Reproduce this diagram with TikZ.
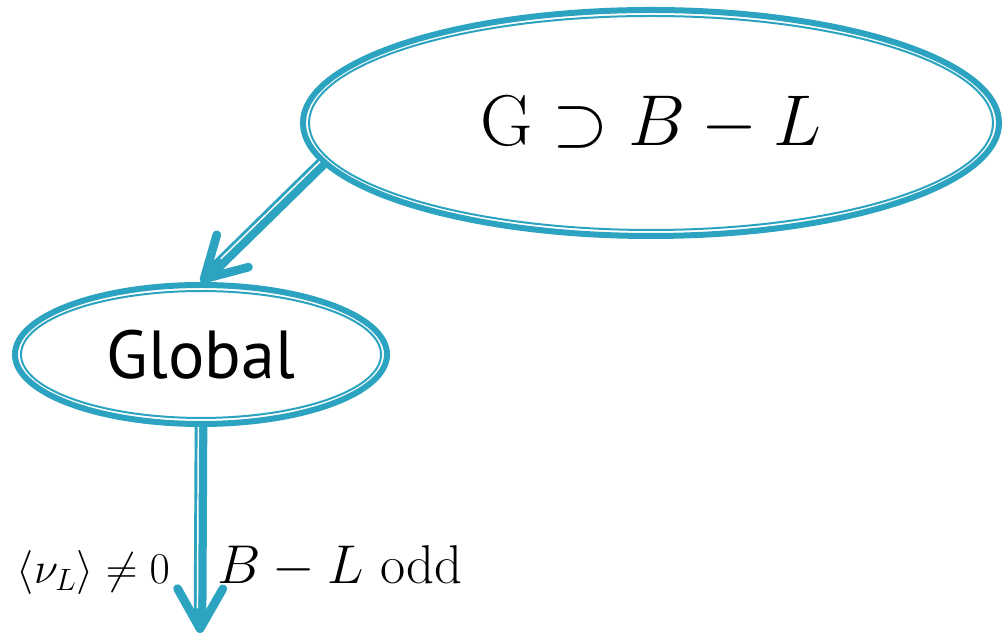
\RequirePackage{fix-cm}
\documentclass[tikz,border=0pt]{standalone}
\usepackage{fontspec}
\newfontfamily\labelsans{PT Sans}
\usetikzlibrary{shapes.geometric, arrows.meta, positioning, calc}
\definecolor{ringteal}{RGB}{44, 163, 192}

\begin{document}
\begin{tikzpicture}[
  x=0.75pt, y=0.75pt,
  ring/.style      = {ellipse, draw=ringteal, line width=4.5pt, inner sep=0pt,
                      text=black},
  innerring/.style = {draw=ringteal, line width=1.5pt},
  flow/.style      = {draw=ringteal, line width=9.5pt,
                      -{Straight Barb[round, length=30pt, width=34pt, line width=6.5pt]}},
  gapline/.style   = {draw=white, line width=1.1pt},
  cond/.style      = {inner sep=0pt}
]
\useasboundingbox (0,0) rectangle (1002,641);

%% Ellipses
\node[ring, minimum width=522pt, minimum height=169.5pt,
      font=\fontsize{54}{60}\selectfont] (root) at (651,518)
  {$\mathrm{G}\supset B-L$};
\draw[innerring] (root.center) ellipse [x radius=256.5pt, y radius=80.25pt];

\node[ring, minimum width=279pt, minimum height=104.25pt,
      font=\labelsans\fontsize{51}{58}\selectfont] (global) at (201,286.5)
  {Global};
\draw[innerring] (global.center) ellipse [x radius=135pt, y radius=47.6pt];

%% Arrows
\coordinate (bottom) at (200,8);

\draw[flow] (root.187) -- (global.north);
\coordinate (g1) at ($(root.187)!0.82!(global.north)$);
\draw[gapline] ($(root.187)!2pt!-90:(global.north)$) -- ($(g1)!2pt!90:(root.187)$);

\draw[flow] (global.south) -- (bottom)
  node[cond, pos=0.761, anchor=base east, xshift=-18pt,
       font=\fontsize{33}{40}\selectfont] (vev)
  {$\langle\nu_L\rangle\neq0$}
  node[cond, pos=0.761, anchor=base west, xshift=8pt,
       font=\fontsize{41}{49}\selectfont] (odd)
  {$B-L$ odd};
\coordinate (g2) at ($(global.south)!0.88!(bottom)$);
\draw[gapline] ($(global.south)!2pt!-90:(bottom)$) -- ($(g2)!2pt!90:(global.south)$);

\end{tikzpicture}
\end{document}
